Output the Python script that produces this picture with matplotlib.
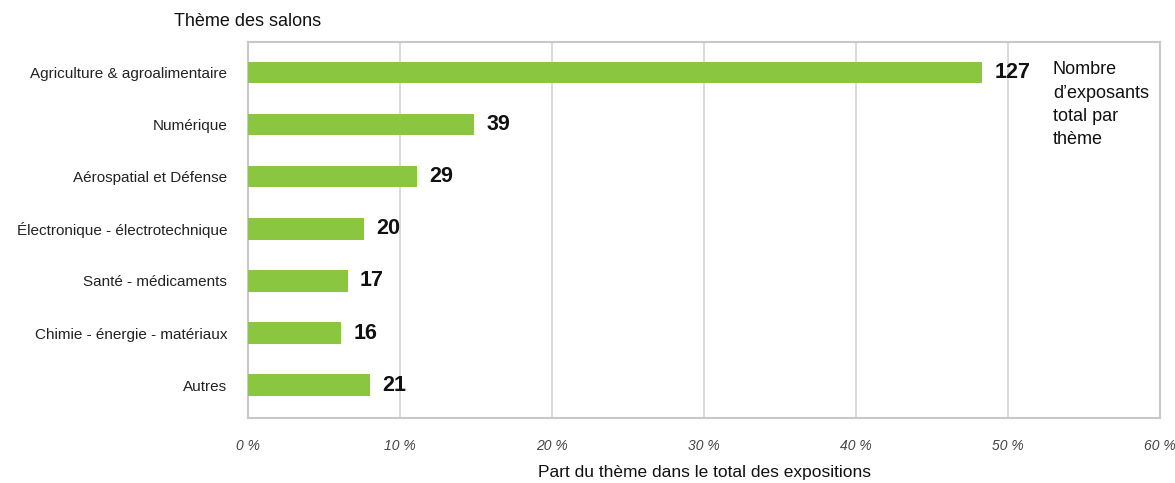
import matplotlib
matplotlib.use("Agg")
import matplotlib.pyplot as plt

plt.rcParams['font.family'] = ['Liberation Sans', 'DejaVu Sans']

categories = ["Agriculture & agroalimentaire", "Numérique", "Aérospatial et Défense",
              "Électronique - électrotechnique", "Santé - médicaments",
              "Chimie - énergie - matériaux", "Autres"]
shares = [48.3, 14.9, 11.15, 7.65, 6.55, 6.15, 8.05]
exposants = [127, 39, 29, 20, 17, 16, 21]
xticks = [0, 10, 20, 30, 40, 50, 60]
xtick_labels = ["0 %", "10 %", "20 %", "30 %", "40 %", "50 %", "60 %"]

W, H = 1175, 483
fig = plt.figure(figsize=(W / 100, H / 100), dpi=100)
ax = fig.add_axes([248 / W, (H - 418) / H, (1160 - 248) / W, (418 - 42) / H])

ypos = list(range(len(categories)))
ax.barh(ypos, shares, height=0.41, color="#8AC640", zorder=3)
for y, v, n in zip(ypos, shares, exposants):
    ax.text(v + 0.8, y, str(n), va="center", ha="left", fontsize=15.5,
            fontweight="bold", color="#111111", zorder=4)

ax.set_xlim(0, 60)
ax.set_ylim(6.63, -0.585)
ax.set_yticks(ypos)
ax.set_yticklabels(categories, fontsize=11, color="#222222")
ax.set_xticks(xticks)
ax.set_xticklabels(xtick_labels, fontsize=10, style="italic", color="#444444")
ax.tick_params(axis="both", length=0)
ax.tick_params(axis="y", pad=15)
ax.tick_params(axis="x", pad=15)
ax.grid(axis="x", color="#d4d4d4", linewidth=1.2, zorder=0)
for s in ax.spines.values():
    s.set_color("#c8c8c8")
    s.set_linewidth(1.5)

ax.set_xlabel("Part du thème dans le total des expositions", fontsize=12.5,
              color="#111111", labelpad=9)
fig.text(248 / W, 1 - 21 / H, "Thème des salons", ha="center", va="center",
         fontsize=13, color="#111111")
fig.text(1053 / W, 1 - 61 / H, "Nombre\nd\u2019exposants\ntotal par\nthème", ha="left",
         va="top", fontsize=13, color="#111111", linespacing=1.5)

fig.savefig("out.png", dpi=100)
